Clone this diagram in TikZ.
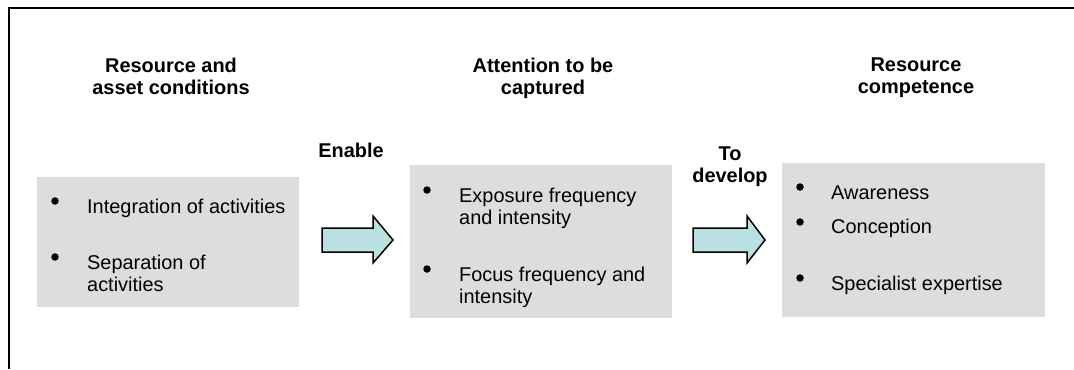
\documentclass[tikz,border=0pt]{standalone}
\usepackage{fontspec}
\setmainfont{Liberation Sans}
\definecolor{panelgray}{HTML}{DDDDDD}
\definecolor{arrowcyan}{HTML}{BBE0E3}
% multi-line text whose baseline is that of its first line
\newcommand\leftlines[1]{\vtop{\halign{##\hfil\cr#1\crcr}}}
\newcommand\centerlines[1]{\vtop{\halign{\hfil##\hfil\cr#1\crcr}}}
\tikzset{
  panel/.style={fill=panelgray, draw=none, inner sep=0, anchor=north west},
  headtext/.style={font=\bfseries\fontsize{20}{23}\selectfont, inner sep=0, anchor=base},
  itemtext/.style={font=\fontsize{20}{23}\selectfont, inner sep=0, anchor=base west},
  dot/.style={circle, fill=black, draw=none, inner sep=0, minimum size=7.5bp},
  blockarrow/.style={draw=black, line width=1.5bp, fill=arrowcyan, line join=miter},
  frameline/.style={draw=black, line width=2bp}
}
\begin{document}
\begin{tikzpicture}[x=1bp,y=-1bp]
\useasboundingbox (0,0) rectangle (1074,369);
% frame
\coordinate (fr) at (1074,7.5);
\coordinate (fc) at (8.5,7.5);
\coordinate (fb) at (8.5,369);
\draw[frameline] (fr) -- (fc) -- (fb);

% panels
\node[panel, minimum width=262bp, minimum height=130bp] (p1) at (37,177) {};
\node[panel, minimum width=262bp, minimum height=153bp] (p2) at (410,165) {};
\node[panel, minimum width=263bp, minimum height=154bp] (p3) at (782,163) {};

% headings
\node[headtext] (h1) at (171,72) {\centerlines{Resource and\cr asset conditions}};
\node[headtext] (h2) at (543,72) {\centerlines{Attention to be\cr captured}};
\node[headtext] (h3) at (916,71) {\centerlines{Resource\cr competence}};
\node[headtext] (l1) at (351,157) {Enable};
\node[headtext] (l2) at (730,160) {\centerlines{To\cr develop}};

% panel 1 items
\node[dot] (b11) at (55,201) {};
\node[itemtext] (t11) at (87,213) {Integration of activities};
\node[dot] (b12) at (55,257) {};
\node[itemtext] (t12) at (87,269) {\leftlines{Separation of\cr activities}};

% panel 2 items
\node[dot] (b21) at (427,190) {};
\node[itemtext] (t21) at (459,202) {\leftlines{Exposure frequency\cr and intensity}};
\node[dot] (b22) at (427,269) {};
\node[itemtext] (t22) at (459,281) {\leftlines{Focus frequency and\cr intensity}};

% panel 3 items
\node[dot] (b31) at (800,187) {};
\node[itemtext] (t31) at (831,199) {Awareness};
\node[dot] (b32) at (800,222) {};
\node[itemtext] (t32) at (831,233) {Conception};
\node[dot] (b33) at (800,278) {};
\node[itemtext] (t33) at (831,290) {Specialist expertise};

% block arrows
\coordinate (a1) at (322,240);
\draw[blockarrow] (a1) ++(0,-12) -- ++(51,0) -- ++(0,-12) -- ++(20,24) -- ++(-20,23) -- ++(0,-11) -- ++(-51,0) -- cycle;
\coordinate (a2) at (693,240);
\draw[blockarrow] (a2) ++(0,-12) -- ++(54,0) -- ++(0,-12) -- ++(18,24) -- ++(-18,23) -- ++(0,-11) -- ++(-54,0) -- cycle;
\end{tikzpicture}
\end{document}
